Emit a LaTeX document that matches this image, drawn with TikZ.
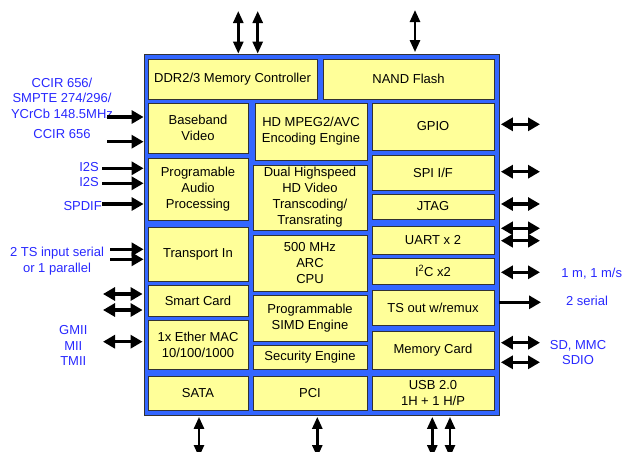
\documentclass[tikz,border=0pt]{standalone}
\usepackage{fontspec}
\setmainfont{Liberation Sans}
\usetikzlibrary{arrows.meta}
\definecolor{chipblue}{RGB}{51,102,255}
\definecolor{blkyellow}{RGB}{255,255,153}
\definecolor{lblblue}{RGB}{40,40,255}
\definecolor{edgegray}{RGB}{50,50,50}
\tikzset{
  blk/.style={draw=edgegray, line width=0.8pt, fill=blkyellow, align=center, inner sep=0pt,
    font=\fontsize{13}{16}\selectfont},
  chipbox/.style={draw=edgegray, line width=0.8pt, fill=chipblue, inner sep=0pt},
  lbl/.style={text=lblblue, align=center, inner sep=0pt, font=\fontsize{13}{15.5}\selectfont},
  harr/.style={line width=3.5pt, {Triangle[length=12pt,width=13pt]}-{Triangle[length=12pt,width=13pt]}},
  sarr/.style={line width=3.5pt, -{Triangle[length=12pt,width=13pt]}},
  varr/.style={line width=2.6pt, {Triangle[length=12pt,width=10pt]}-{Triangle[length=12pt,width=10pt]}},
}
\begin{document}
\begin{tikzpicture}[x=1pt,y=-1pt]
\useasboundingbox (0,0) rectangle (624,451);
% chip
\node[chipbox, minimum width=355pt, minimum height=361pt] (chip) at (321.5,234.5) {};
% blocks
\node[blk, minimum width=169pt, minimum height=40pt] (ddr) at (232.5,79) {DDR2/3 Memory Controller};
\node[blk, minimum width=171pt, minimum height=40pt] (nand) at (408.5,79) {NAND Flash};
\node[blk, minimum width=100pt, minimum height=50pt] (bb) at (198,128) {Baseband\\Video};
\node[blk, minimum width=112pt, minimum height=57pt] (mpeg) at (311,131.5) {HD MPEG2/AVC\\Encoding Engine};
\node[blk, minimum width=122pt, minimum height=47pt] (gpio) at (433,126.5) {GPIO};
\node[blk, minimum width=100pt, minimum height=62pt] (audio) at (198,189) {Programable\\Audio\\Processing};
\node[blk, minimum width=114pt, minimum height=65pt] (dual) at (310,197.5) {Dual Highspeed\\HD Video\\Transcoding/\\Transrating};
\node[blk, minimum width=122pt, minimum height=35pt] (spi) at (433,172.5) {SPI I/F};
\node[blk, minimum width=122pt, minimum height=25pt] (jtag) at (433,206.5) {JTAG};
\node[blk, minimum width=100pt, minimum height=54pt] (tsin) at (198,254) {Transport In};
\node[blk, minimum width=114pt, minimum height=56pt] (cpu) at (310,263) {500 MHz\\ARC\\CPU};
\node[blk, minimum width=122pt, minimum height=28pt] (uart) at (433,240) {UART x 2};
\node[blk, minimum width=122pt, minimum height=26pt] (i2c) at (433,271) {I\textsuperscript{2}C x2};
\node[blk, minimum width=100pt, minimum height=31pt] (smart) at (198,300.5) {Smart Card};
\node[blk, minimum width=114pt, minimum height=46pt] (simd) at (310,318) {Programmable\\SIMD Engine};
\node[blk, minimum width=122pt, minimum height=35pt] (tsout) at (433,307.5) {TS out w/remux};
\node[blk, minimum width=100pt, minimum height=49pt] (ether) at (198,344.5) {1x Ether MAC\\10/100/1000};
\node[blk, minimum width=114pt, minimum height=24pt] (sec) at (310,357) {Security Engine};
\node[blk, minimum width=122pt, minimum height=38pt] (mem) at (433,350) {Memory Card};
\node[blk, minimum width=100pt, minimum height=34pt] (sata) at (198,393) {SATA};
\node[blk, minimum width=114pt, minimum height=34pt] (pci) at (310,393) {PCI};
\node[blk, minimum width=122pt, minimum height=34pt] (usb) at (433,393) {USB 2.0\\1H + 1 H/P};
% left labels
\node[lbl] (lccir1) at (62,98) {CCIR 656/\\SMPTE 274/296/\\YCrCb 148.5MHz};
\node[lbl] (lccir2) at (62,134) {CCIR 656};
\node[lbl, anchor=east] (li2s1) at (99,167) {I2S};
\node[lbl, anchor=east] (li2s2) at (99,182.5) {I2S};
\node[lbl, anchor=east] (lspdif) at (102,206.5) {SPDIF};
\node[lbl] (lts) at (57,261) {2 TS input serial\\or 1 parallel};
\node[lbl] (lgmii) at (73.3,345.5) {GMII\\MII\\TMII};
% right labels
\node[lbl] (rm) at (591.7,273.3) {1 m, 1 m/s};
\node[lbl] (rser) at (587,300.7) {2 serial};
\node[lbl] (rsd) at (578,352.3) {SD, MMC\\SDIO};
% left arrow ends
\coordinate (la1) at (107,117);
\coordinate (la2) at (107,141.7);
\coordinate (la3) at (102,168.3);
\coordinate (la4) at (102,183.3);
\coordinate (la5) at (102,204);
\coordinate (la6) at (110,249.3);
\coordinate (la7) at (110,259.3);
\coordinate (la8) at (103,294);
\coordinate (la9) at (103,310);
\coordinate (la10) at (103,341.7);
\foreach \c in {la1,la2,la3,la4,la5,la6,la7}
  \draw[sarr] (\c) -- (\c -| chip.west);
\foreach \c in {la8,la9,la10}
  \draw[harr] (\c) -- ([xshift=-1pt]\c -| chip.west);
% right arrow ends
\coordinate (ra1) at (540,124.3);
\coordinate (ra2) at (540,171.7);
\coordinate (ra3) at (540,204);
\coordinate (ra4) at (540,228.3);
\coordinate (ra5) at (540,240.7);
\coordinate (ra6) at (540,272.3);
\coordinate (ra8) at (540,342.7);
\coordinate (ra9) at (540,362.3);
\coordinate (ra7) at (541,302.3);
\foreach \c in {ra1,ra2,ra3,ra4,ra5,ra6,ra8,ra9}
  \draw[harr] ([xshift=1.5pt]\c -| chip.east) -- (\c);
\draw[sarr] (ra7 -| chip.east) -- (ra7);
% top arrows
\coordinate (ta1) at (238.3,11);
\coordinate (ta2) at (257.7,11);
\coordinate (ta3) at (415,10);
\draw[varr] (ta1) -- (ta1 |- chip.north);
\draw[varr] (ta2) -- (ta2 |- chip.north);
\draw[varr] (ta3) -- ([yshift=1.5pt]ta3 |- chip.north);
% bottom arrows
\coordinate (ba1) at (199,457);
\coordinate (ba2) at (317.3,457);
\coordinate (ba3) at (432.3,457);
\coordinate (ba4) at (450,457);
\foreach \c in {ba1,ba2,ba3,ba4}
  \draw[varr] ([yshift=-1.5pt]\c |- chip.south) -- (\c);
\end{tikzpicture}
\end{document}
